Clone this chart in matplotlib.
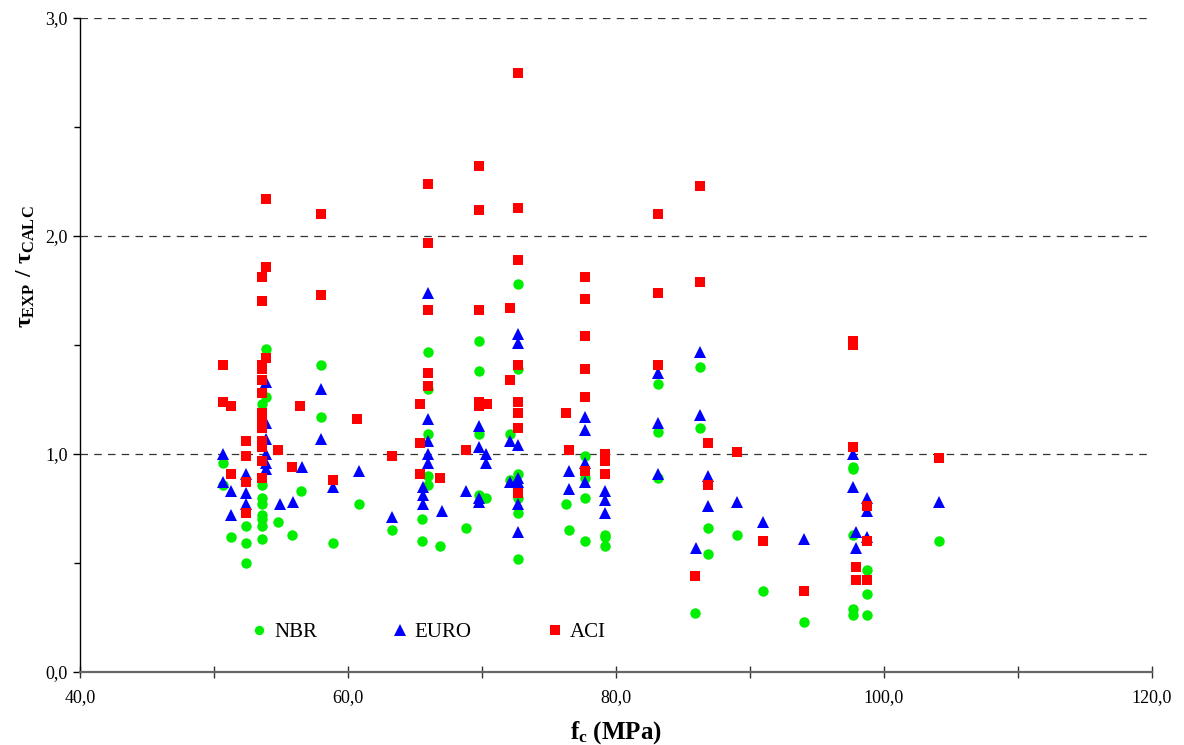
import matplotlib
matplotlib.use("Agg")
import matplotlib.pyplot as plt
from matplotlib.ticker import FuncFormatter, MultipleLocator

plt.rcParams['font.family'] = ['Liberation Serif', 'DejaVu Serif']
plt.rcParams['mathtext.fontset'] = 'custom'
plt.rcParams['mathtext.rm'] = 'Liberation Serif:bold'
plt.rcParams['mathtext.it'] = 'Liberation Serif:bold'
plt.rcParams['mathtext.bf'] = 'Liberation Serif:bold'

# ---- data (fc in MPa, ratio tau_exp / tau_calc) ----
nbr_fc = [50.7, 50.7, 51.3, 52.4, 52.4, 52.4, 53.9, 53.9,
          53.6, 53.6, 53.6, 53.6, 53.6, 53.6, 53.6, 53.6,
          54.8, 55.8, 56.5, 58.0, 58.0, 58.9, 60.8, 63.3, 65.5, 65.5,
          66.0, 66.0, 66.0, 66.0, 66.0, 66.9, 68.8,
          69.8, 69.8, 69.8, 69.8, 70.3, 72.1, 72.1,
          72.7, 72.7, 72.7, 72.7, 72.7, 72.7, 76.3, 76.5,
          77.7, 77.7, 77.7, 77.7, 79.2, 79.2, 79.2,
          83.1, 83.1, 83.1, 85.9, 86.3, 86.3, 86.9, 86.9, 89.0, 91.0, 94.0,
          97.7, 97.7, 97.7, 97.7, 97.7, 98.7, 98.7, 98.7, 104.1]
nbr_val = [0.96, 0.86, 0.62, 0.67, 0.59, 0.50, 1.48, 1.26,
           1.23, 0.86, 0.80, 0.77, 0.72, 0.70, 0.67, 0.61,
           0.69, 0.63, 0.83, 1.41, 1.17, 0.59, 0.77, 0.65, 0.70, 0.60,
           1.47, 1.30, 1.09, 0.90, 0.86, 0.58, 0.66,
           1.52, 1.38, 1.09, 0.81, 0.80, 1.09, 0.88,
           1.78, 1.39, 0.91, 0.80, 0.73, 0.52, 0.77, 0.65,
           0.99, 0.89, 0.80, 0.60, 0.63, 0.62, 0.58,
           1.32, 1.10, 0.89, 0.27, 1.40, 1.12, 0.66, 0.54, 0.63, 0.37, 0.23,
           0.94, 0.93, 0.63, 0.29, 0.26, 0.47, 0.36, 0.26, 0.60]

euro_fc = [50.7, 50.7, 51.3, 51.3, 52.4, 52.4, 52.4,
           53.9, 53.9, 53.9, 53.9, 53.9, 53.9, 54.9, 55.9, 56.6,
           58.0, 58.0, 58.9, 60.8, 63.3, 65.6, 65.6, 65.6,
           66.0, 66.0, 66.0, 66.0, 66.0, 67.0, 68.8,
           69.8, 69.8, 69.8, 69.8, 70.3, 70.3, 72.1, 72.1,
           72.7, 72.7, 72.7, 72.7, 72.7, 72.7, 72.7, 76.5, 76.5,
           77.7, 77.7, 77.7, 77.7, 79.2, 79.2, 79.2,
           83.1, 83.1, 83.1, 86.0, 86.3, 86.3, 86.9, 86.9, 89.0, 91.0, 94.0,
           97.7, 97.7, 97.9, 97.9, 98.7, 98.7, 98.7, 104.1]
euro_val = [1.00, 0.87, 0.83, 0.72, 0.91, 0.82, 0.77,
            1.33, 1.14, 1.07, 1.00, 0.96, 0.93, 0.77, 0.78, 0.94,
            1.30, 1.07, 0.85, 0.92, 0.71, 0.85, 0.81, 0.77,
            1.74, 1.16, 1.06, 1.00, 0.96, 0.74, 0.83,
            1.13, 1.03, 0.80, 0.78, 1.00, 0.96, 1.06, 0.87,
            1.55, 1.51, 1.04, 0.89, 0.87, 0.77, 0.64, 0.92, 0.84,
            1.17, 1.11, 0.96, 0.87, 0.83, 0.79, 0.73,
            1.37, 1.14, 0.91, 0.57, 1.47, 1.18, 0.90, 0.76, 0.78, 0.69, 0.61,
            1.00, 0.85, 0.64, 0.57, 0.80, 0.74, 0.62, 0.78]

aci_fc = [50.7, 50.7, 51.3, 51.3, 52.4, 52.4, 52.4, 52.4,
          53.9, 53.9, 53.6, 53.6, 53.9, 53.6, 53.6, 53.6, 53.6, 53.6,
          53.6, 53.6, 53.6, 53.6, 53.6, 53.6,
          54.8, 55.8, 56.4, 58.0, 58.0, 58.9, 60.7, 63.3,
          65.4, 65.4, 65.4, 66.0, 66.0, 66.0, 66.0, 66.0, 66.9, 68.8,
          69.8, 69.8, 69.8, 69.8, 69.8, 70.4, 72.1, 72.1,
          72.7, 72.7, 72.7, 72.7, 72.7, 72.7, 72.7, 72.7, 76.3, 76.5,
          77.7, 77.7, 77.7, 77.7, 77.7, 77.7, 79.2, 79.2, 79.2,
          83.1, 83.1, 83.1, 85.9, 86.3, 86.3, 86.9, 86.9, 89.0, 91.0, 94.0,
          97.7, 97.7, 97.7, 97.9, 97.9, 98.7, 98.7, 98.7, 104.1]
aci_val = [1.41, 1.24, 1.22, 0.91, 1.06, 0.99, 0.87, 0.73,
           2.17, 1.86, 1.81, 1.70, 1.44, 1.41, 1.39, 1.34, 1.28, 1.19,
           1.14, 1.12, 1.06, 1.03, 0.97, 0.89,
           1.02, 0.94, 1.22, 2.10, 1.73, 0.88, 1.16, 0.99,
           1.23, 1.05, 0.91, 2.24, 1.97, 1.66, 1.37, 1.31, 0.89, 1.02,
           2.32, 2.12, 1.66, 1.24, 1.22, 1.23, 1.67, 1.34,
           2.75, 2.13, 1.89, 1.41, 1.24, 1.19, 1.12, 0.82, 1.19, 1.02,
           1.81, 1.71, 1.54, 1.39, 1.26, 0.92, 1.00, 0.97, 0.91,
           2.10, 1.74, 1.41, 0.44, 2.23, 1.79, 1.05, 0.86, 1.01, 0.60, 0.37,
           1.52, 1.50, 1.03, 0.48, 0.42, 0.76, 0.60, 0.42, 0.98]

series_names = ["NBR", "EURO", "ACI"]
x_ticks = [40, 60, 80, 100, 120]
y_ticks = [0, 1, 2, 3]

fig = plt.figure(figsize=(11.84, 7.45), dpi=100)
ax = fig.add_axes([80/1184, 73/745, 1072/1184, 654/745])

ms = 7.5
ax.plot(nbr_fc, nbr_val, linestyle='none', marker='o', color='#00ee00',
        markersize=ms, markeredgewidth=0, label=series_names[0], zorder=3)
ax.plot(euro_fc, euro_val, linestyle='none', marker='^', color='#0000ff',
        markersize=ms + 1.5, markeredgewidth=0, label=series_names[1], zorder=4)
ax.plot(aci_fc, aci_val, linestyle='none', marker='s', color='#ff0000',
        markersize=ms, markeredgewidth=0, label=series_names[2], zorder=5)

ax.set_xlim(40, 120)
ax.set_ylim(0, 3)
ax.set_xticks(x_ticks)
ax.set_yticks(y_ticks)
ax.xaxis.set_minor_locator(MultipleLocator(10))
ax.yaxis.set_minor_locator(MultipleLocator(0.5))
fmt = FuncFormatter(lambda v, p: f"{v:.1f}".replace('.', ','))
ax.xaxis.set_major_formatter(fmt)
ax.yaxis.set_major_formatter(fmt)

for yv in y_ticks[1:]:
    ax.axhline(yv, color='#333333', linestyle=(0, (6, 5)), linewidth=0.9, zorder=1)

for s in ['top', 'right']:
    ax.spines[s].set_visible(False)
ax.spines['left'].set_color('black')
ax.spines['left'].set_linewidth(1.0)
ax.spines['bottom'].set_color('#666666')
ax.spines['bottom'].set_linewidth(1.6)

ax.tick_params(axis='x', which='both', direction='inout', length=8, width=1,
               labelsize=13, pad=8, color='#333333')
ax.tick_params(axis='y', which='major', direction='out', length=5, width=1,
               labelsize=13, pad=4)
ax.tick_params(axis='y', which='minor', direction='out', length=4, width=1)

ax.set_xlabel(r'$f_c$ (MPa)', fontsize=18, fontweight='bold', labelpad=10)
ax.set_ylabel(r'$\tau_{EXP}\ /\ \tau_{CALC}$', fontsize=17, fontweight='bold')
ax.yaxis.set_label_coords(-0.04, 0.62)

leg = ax.legend(loc='center', bbox_to_anchor=(0.326, 0.061), ncol=3, frameon=False,
                fontsize=15, handlelength=0.6, handletextpad=0.4, columnspacing=3.7,
                markerscale=0.9)

fig.savefig("out.png", dpi=100)
